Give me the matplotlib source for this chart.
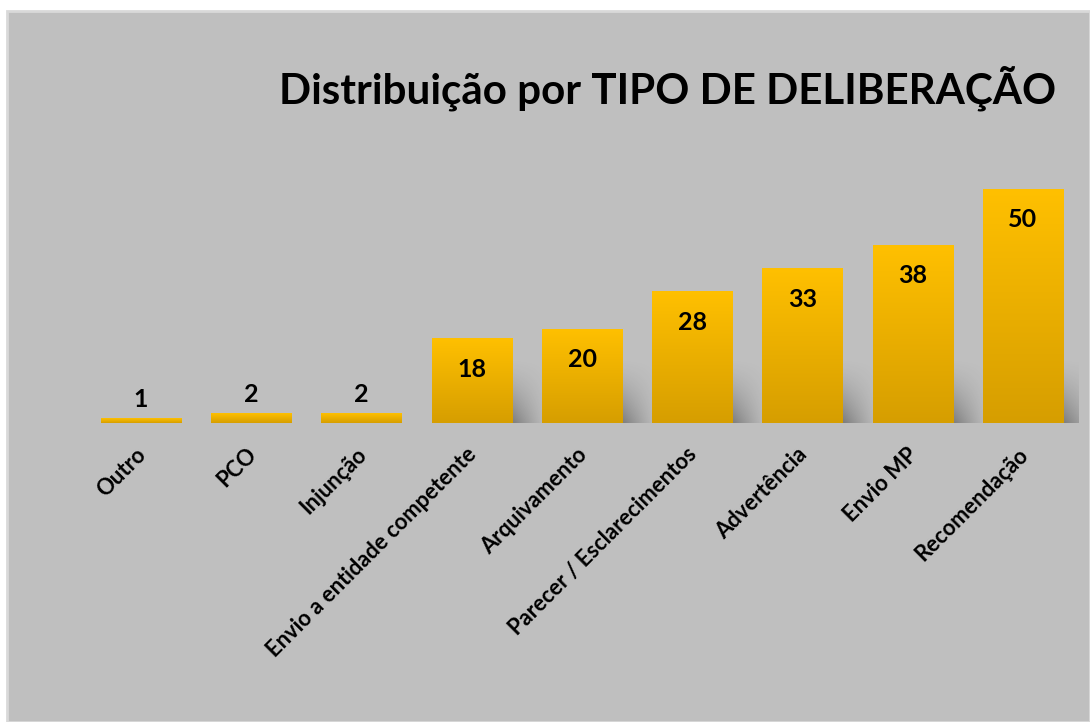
import matplotlib
matplotlib.use("Agg")
import matplotlib.pyplot as plt
import numpy as np
from matplotlib.patches import Rectangle
from matplotlib.colors import LinearSegmentedColormap
from matplotlib.transforms import ScaledTranslation

categories = ["Outro", "PCO", "Injunção", "Envio a entidade competente", "Arquivamento",
              "Parecer / Esclarecimentos", "Advertência", "Envio MP", "Recomendação"]
values = [1, 2, 2, 18, 20, 28, 33, 38, 50]
title = "Distribuição por TIPO DE DELIBERAÇÃO"

W, H = 1090, 722
fig = plt.figure(figsize=(W / 100, H / 100), dpi=100)
fig.patch.set_facecolor("white")
# chart area
fig.patches.append(Rectangle((7 / W, 0), 1 - 7 / W, 1 - 11 / H, transform=fig.transFigure,
                             facecolor="#BFBFBF", edgecolor="#D9D9D9", linewidth=2, zorder=-5))

FONT = ["Lato", "DejaVu Sans"]
px = 4.68
ymax = 55
base = 423
top = base - ymax * px
ax = fig.add_axes([86 / W, (H - base) / H, (1078 - 86) / W, (base - top) / H])
ax.set_zorder(1)
ax.set_facecolor("none")
for s in ax.spines.values():
    s.set_visible(False)
ax.set_xlim(-0.5, len(values) - 0.5)
ax.set_ylim(0, ymax)
ax.set_yticks([])

cmap = LinearSegmentedColormap.from_list("g", ["#D69E00", "#FFC000"])
grad = np.linspace(0, 1, 256).reshape(-1, 1)
bw = 0.727
x = np.arange(len(values))

# soft shadows
sh = np.zeros((64, 64, 4))
yy, xx = np.mgrid[0:1:64j, 0:1:64j]
alpha = np.clip(1 - xx, 0, 1) ** 1.2 * np.clip(1 - yy, 0, 1) ** 1.5 * 0.35
sh[..., 3] = alpha
for xi, v in zip(x, values):
    hsh = min(v, 14) if v > 3 else 0
    if hsh > 0:
        ax.imshow(sh, extent=[xi + bw / 2, xi + bw / 2 + 0.33, 0, hsh], origin="lower",
                  aspect="auto", zorder=1, interpolation="bilinear")

bars = ax.bar(x, values, width=bw, color="none", edgecolor="none", zorder=2)
for b in bars:
    x0, y0 = b.get_x(), b.get_y()
    ax.imshow(grad, extent=[x0, x0 + b.get_width(), y0, y0 + b.get_height()], origin="lower",
              cmap=cmap, aspect="auto", zorder=2)

for xi, v in zip(x, values):
    if v < 5:
        ax.annotate(str(v), (xi, v), xytext=(0, 13.5), textcoords="offset points", ha="center",
                    va="center", fontsize=18, fontweight="bold", family=FONT, color="black")
    else:
        ax.annotate(str(v), (xi, v), xytext=(0, -22), textcoords="offset points", ha="center",
                    va="center", fontsize=18, fontweight="bold", family=FONT, color="black")

ax.set_xticks(x)
ax.set_xticklabels(categories, rotation=45, ha="right", rotation_mode="anchor",
                   fontsize=15.8, fontweight="bold", family=FONT)
ax.tick_params(axis="x", length=0, pad=15)
ax.tick_params(axis="y", length=0)
shift = ScaledTranslation(-6 / 100, 0, fig.dpi_scale_trans)
for lbl in ax.get_xticklabels():
    lbl.set_transform(lbl.get_transform() + shift)

fig.text(668 / W, 1 - 88 / H, title, ha="center", va="center", fontsize=30.3,
         fontweight="bold", family=FONT)

fig.savefig("out.png", dpi=100)
